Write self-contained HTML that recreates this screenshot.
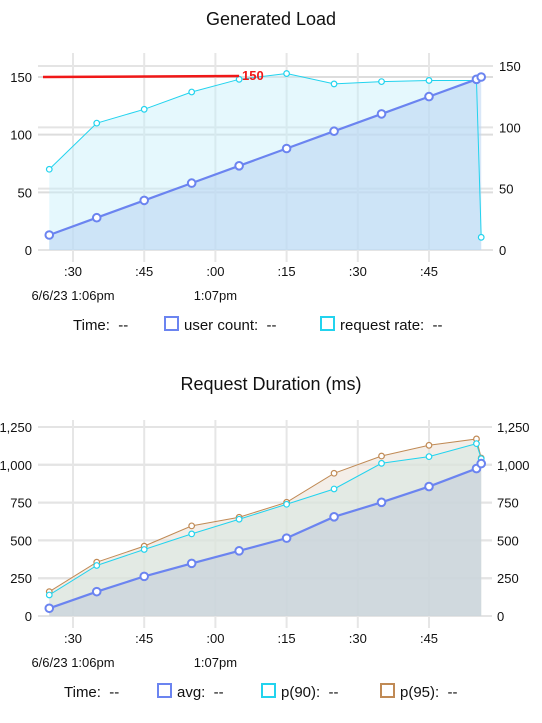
<!DOCTYPE html>
<html><head><meta charset="utf-8"><style>
html,body{margin:0;padding:0;background:#fff;width:542px;height:723px;overflow:hidden;font-family:"Liberation Sans",sans-serif;}
svg{display:block}
text{font-family:"Liberation Sans",sans-serif;white-space:pre}
</style></head><body>
<svg id="s" width="542" height="723"></svg>
<script>
// ---- shared time data (seconds after 1:06:00) ----
const times = [25,35,45,55,65,75,85,95,105,115,116];
const xTickSecs = [30,45,60,75,90,105];
const xTickLabels = [':30',':45',':00',':15',':30',':45'];
// ---- chart 1: Generated Load ----
const userCount = [13,28,43,58,73,88,103,118,133,148,150];
const requestRate = [70,110,122,137,148,153,144,146,147,147,11];
const loadLeftTicks = [0,50,100,150];
const loadRightTicks = [0,50,100,150];
const thresholdValue = [150];
// ---- chart 2: Request Duration ----
const avgDur = [51,161,262,348,431,515,656,752,856,975,1008];
const p90Dur = [139,334,440,543,640,739,840,1010,1054,1140,1040];
const p95Dur = [161,356,462,596,653,752,944,1058,1129,1171,1045];
const durTicks = [0,250,500,750,1000,1250];

const NS='http://www.w3.org/2000/svg';
const svg=document.getElementById('s');
function el(tag,attrs,parent){const e=document.createElementNS(NS,tag);for(const k in attrs)e.setAttribute(k,attrs[k]);(parent||svg).appendChild(e);return e;}
function txt(s,x,y,attrs,parent){const t=el('text',Object.assign({x:x,y:y,'font-size':13,fill:'#111'},attrs),parent);t.textContent=s;return t;}
const X=t=>73+(t-30)*(71.2/15);

function chart(cfg){
  const g=el('g',{});
  
  
  const Y=cfg.Y, YR=cfg.YR;
  cfg.lt.forEach(v=>{const l=el('line',{x1:38,x2:cfg.gx2,y1:Y(v),y2:Y(v),stroke:'#ddd','stroke-width':2},g);
    const t=txt(v.toLocaleString('en-US'),32,Y(v)+5,{'text-anchor':'end'},g);});
  cfg.rt.forEach(v=>{const l=el('line',{x1:38,x2:cfg.gx2,y1:YR(v),y2:YR(v),stroke:'#e4e4e4','stroke-width':2},g);
    const t=txt(v.toLocaleString('en-US'),cfg.rx,YR(v)+5,{},g);});
  xTickSecs.forEach((s,i)=>{const l=el('line',{x1:X(s),x2:X(s),y1:cfg.top,y2:cfg.bot,stroke:'#e6e6e6','stroke-width':2},g);
    const t=txt(xTickLabels[i],X(s),cfg.xl,{'text-anchor':'middle'},g);});
  let t1=txt('6/6/23 1:06pm',X(30),cfg.xl+24,{'text-anchor':'middle'},g);
  let t2=txt('1:07pm',X(60),cfg.xl+24,{'text-anchor':'middle'},g);
  cfg.series.forEach(s=>{
    const pts=s.data.map((v,i)=>[X(times[i]),Y(v)]);
    const d=pts.map((p,i)=>(i?'L':'M')+p[0]+','+p[1]).join('');
    const a=el('path',{d:d+'L'+pts[pts.length-1][0]+','+Y(0)+'L'+pts[0][0]+','+Y(0)+'Z',fill:s.fill,'fill-opacity':s.fo},g);
    
  });
  cfg.series.forEach(s=>{
    const pts=s.data.map((v,i)=>[X(times[i]),Y(v)]);
    const d=pts.map((p,i)=>(i?'L':'M')+p[0]+','+p[1]).join('');
    const p=el('path',{d:d,fill:'none',stroke:s.color,'stroke-width':s.w},g);
    
    pts.forEach(q=>{const c=el('circle',{cx:q[0],cy:q[1],r:s.r,fill:'#fff',stroke:s.color,'stroke-width':s.w>1.5?2:1.2},g);
      });
  });
  const tt=txt(cfg.title,271,cfg.ty,{'text-anchor':'middle','font-size':18},g);
  
  const lg=el('g',{},g);
  const lt=txt('Time:  --',cfg.legX,cfg.ly,{'font-size':15},lg);
  cfg.legend.forEach(l=>{
    const r=el('rect',{x:l.x,y:cfg.ly-13,width:13,height:13,fill:'none',stroke:l.color,'stroke-width':2},lg);
    
    const t=txt(l.label+':  --',l.x+19,cfg.ly,{'font-size':15},lg);
  });
  return g;
}

const Y1=v=>250-v*(173/150);
const Y1R=v=>250-v*(184/150);
chart({name:'generated-load-chart',Y:Y1,YR:Y1R,lt:loadLeftTicks,rt:loadRightTicks,gx2:493,rx:499,top:53,bot:262,xl:276,
  title:'Generated Load',ty:25,ly:330,legX:73,
  series:[{key:'request-rate',data:requestRate,color:'#22d3ee',fill:'#c5f0fb',fo:0.45,w:1,r:2.8},
          {key:'user-count',data:userCount,color:'#6b84f0',fill:'#b9d4f2',fo:0.55,w:2.2,r:3.8}],
  legend:[{x:165,label:'user count',color:'#6b84f0'},{x:321,label:'request rate',color:'#22d3ee'}]});
const th=el('line',{x1:43,x2:X(65),y1:Y1(thresholdValue[0]),y2:Y1(thresholdValue[0])-1,stroke:'#f01818','stroke-width':2.5});

const thl=txt(String(thresholdValue[0]),242,Y1(thresholdValue[0])+3,{'font-size':13,'font-weight':'bold',fill:'#f01818'});


const Y2=v=>616-v*(189/1250);
chart({name:'request-duration-chart',Y:Y2,YR:Y2,lt:durTicks,rt:durTicks,gx2:492,rx:497,top:420,bot:628,xl:643,
  title:'Request Duration (ms)',ty:390,ly:697,legX:64,
  series:[{key:'p95',data:p95Dur,color:'#c08a55',fill:'#e9ddd2',fo:0.5,w:1,r:2.8},
          {key:'p90',data:p90Dur,color:'#22d3ee',fill:'#d5e8e0',fo:0.55,w:1,r:2.8},
          {key:'avg',data:avgDur,color:'#6b84f0',fill:'#c8d2dc',fo:0.7,w:2.2,r:3.8}],
  legend:[{x:158,label:'avg',color:'#6b84f0'},{x:262,label:'p(90)',color:'#22d3ee'},{x:381,label:'p(95)',color:'#c08a55'}]});
</script>
</body></html>
